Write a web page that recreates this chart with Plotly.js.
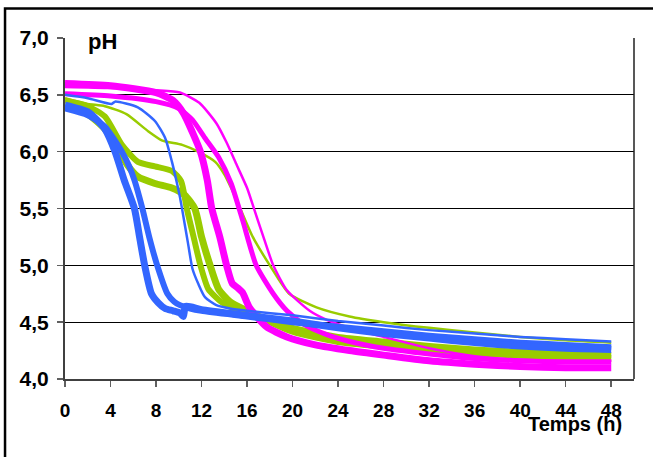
<!DOCTYPE html>
<html>
<head>
<meta charset="utf-8">
<script src="https://cdn.plot.ly/plotly-3.0.1.min.js"></script>
<style>
html,body{margin:0;padding:0;background:#fff;}
#chart{width:653px;height:457px;}
</style>
</head>
<body>
<div id="chart"></div>
<script>
// ---- data (time in h, pH) ----
const xTicks = [0, 4, 8, 12, 16, 20, 24, 28, 32, 36, 40, 44, 48];
const yTicks = [4.0, 4.5, 5.0, 5.5, 6.0, 6.5, 7.0];

// green series
const tG1 = [0, 2, 3.5, 5.4, 7.3, 8.5, 10.3, 11.7, 13.2, 14.0, 14.6, 15.4, 16.5, 18.0, 19.7, 22.1, 25, 28, 32, 36, 40, 44, 48];
const pG1 = [6.47, 6.42, 6.40, 6.33, 6.18, 6.10, 6.06, 6.00, 5.91, 5.80, 5.68, 5.50, 5.25, 5.00, 4.75, 4.63, 4.55, 4.50, 4.45, 4.41, 4.37, 4.34, 4.32];
const tG2 = [0, 2, 3.5, 5, 6.4, 7.9, 9.4, 10.2, 10.7, 11.3, 11.9, 12.6, 13.7, 14.6, 16, 20, 24, 28, 32, 36, 40, 44, 48];
const pG2 = [6.45, 6.40, 6.31, 6.06, 5.91, 5.87, 5.83, 5.74, 5.50, 5.25, 5.00, 4.79, 4.68, 4.63, 4.57, 4.45, 4.37, 4.33, 4.29, 4.26, 4.24, 4.22, 4.21];
const tG3 = [0, 2, 3.5, 4.8, 5.5, 6.4, 7.9, 9.4, 10.5, 11.4, 12.0, 12.75, 13.5, 14.5, 16, 20, 24, 28, 32, 36, 40, 44, 48];
const pG3 = [6.40, 6.33, 6.20, 6.00, 5.88, 5.78, 5.72, 5.68, 5.62, 5.50, 5.25, 5.00, 4.79, 4.68, 4.60, 4.42, 4.33, 4.29, 4.26, 4.23, 4.21, 4.19, 4.18];

// magenta series
const tM1 = [0, 4, 8, 9.5, 10.4, 11.2, 11.9, 12.5, 12.9, 13.6, 14.2, 14.7, 15.2, 15.6, 16.2, 17.7, 19.5, 22, 25, 28, 32, 36, 40, 44, 48];
const pM1 = [6.60, 6.58, 6.52, 6.45, 6.34, 6.17, 6.00, 5.75, 5.50, 5.25, 5.00, 4.84, 4.80, 4.76, 4.63, 4.46, 4.37, 4.30, 4.25, 4.21, 4.16, 4.13, 4.11, 4.10, 4.10];
const tM2 = [0, 4, 8, 10, 11.2, 12.3, 13.5, 14.6, 15.6, 16.8, 18.3, 19.5, 21, 23, 25, 28, 32, 36, 40, 44, 48];
const pM2 = [6.51, 6.49, 6.44, 6.38, 6.28, 6.12, 5.95, 5.72, 5.40, 5.00, 4.75, 4.60, 4.48, 4.39, 4.33, 4.27, 4.22, 4.18, 4.16, 4.15, 4.15];
const tM3 = [0, 4, 8, 10.1, 11.8, 13.3, 14.2, 15.1, 16.0, 16.7, 17.5, 18.3, 19.5, 21.5, 23, 25, 28, 32, 36, 40, 44, 48];
const pM3 = [6.57, 6.56, 6.54, 6.52, 6.43, 6.25, 6.08, 5.88, 5.68, 5.47, 5.23, 5.00, 4.78, 4.60, 4.52, 4.45, 4.37, 4.27, 4.20, 4.17, 4.16, 4.16];

// blue series
const tB1 = [0, 2, 3.5, 4.4, 5.2, 6.1, 6.55, 7.0, 7.6, 8.2, 8.8, 9.5, 10.1, 10.4, 10.6, 12, 16, 20, 24, 28, 32, 36, 40, 44, 48];
const pB1 = [6.41, 6.35, 6.20, 6.00, 5.75, 5.50, 5.25, 5.00, 4.75, 4.67, 4.62, 4.60, 4.58, 4.55, 4.64, 4.61, 4.56, 4.51, 4.45, 4.40, 4.36, 4.32, 4.29, 4.27, 4.26];
const tB2 = [0, 2, 3.5, 5.0, 5.6, 6.1, 6.8, 7.4, 8.1, 9.0, 9.6, 10.1, 11, 12, 16, 20, 24, 28, 32, 36, 40, 44, 48];
const pB2 = [6.38, 6.32, 6.22, 6.00, 5.88, 5.75, 5.50, 5.25, 5.00, 4.75, 4.68, 4.65, 4.62, 4.60, 4.55, 4.50, 4.46, 4.42, 4.38, 4.35, 4.32, 4.30, 4.28];
const tB3 = [0, 2, 4.1, 4.4, 6.4, 7.9, 8.8, 9.4, 9.8, 10.1, 10.3, 10.8, 11.2, 11.7, 12.3, 13.3, 14.5, 16, 20, 24, 28, 32, 36, 40, 44, 48];
const pB3 = [6.50, 6.47, 6.42, 6.44, 6.39, 6.27, 6.12, 5.91, 5.74, 5.60, 5.49, 5.20, 4.97, 4.84, 4.72, 4.65, 4.62, 4.60, 4.56, 4.51, 4.47, 4.43, 4.40, 4.37, 4.35, 4.33];

const GREEN = '#99CC00', MAGENTA = '#FF00FF', BLUE = '#3366FF';

function tr(x, y, color, width) {
  return {x: x, y: y, type: 'scatter', mode: 'lines',
          line: {color: color, width: width, shape: 'spline', smoothing: 0.6},
          hoverinfo: 'skip', showlegend: false};
}

const traces = [
  tr(tG1, pG1, GREEN, 2.5),
  tr(tG2, pG2, GREEN, 6),
  tr(tG3, pG3, GREEN, 7),
  tr(tM3, pM3, MAGENTA, 2.5),
  tr(tM2, pM2, MAGENTA, 5),
  tr(tM1, pM1, MAGENTA, 7),
  tr(tB3, pB3, BLUE, 2.5),
  tr(tB2, pB2, BLUE, 6),
  tr(tB1, pB1, BLUE, 7)
];

const FAM = 'Liberation Sans, Arial, sans-serif';
const b = s => '<b>' + s + '</b>';

const layout = {
  width: 653, height: 457,
  margin: {l: 65, r: 19, t: 38, b: 78, pad: 0},
  paper_bgcolor: '#fff', plot_bgcolor: '#fff',
  showlegend: false,
  xaxis: {
    range: [0, 50], tickmode: 'array', tickvals: xTicks, ticktext: xTicks.map(v => b(String(v))),
    showgrid: false, zeroline: false,
    showline: true, linecolor: '#404040', linewidth: 2, mirror: false,
    ticks: 'outside', ticklen: 6, tickwidth: 1.5, tickcolor: '#606060',
    tickfont: {family: FAM, size: 19, color: '#000'}, ticklabelstandoff: 7
  },
  yaxis: {
    range: [4, 7], tickmode: 'array', tickvals: yTicks,
    ticktext: yTicks.map(v => b(v.toFixed(1).replace('.', ','))),
    showgrid: true, gridcolor: '#000', gridwidth: 1.2, zeroline: false,
    showline: true, linecolor: '#404040', linewidth: 2, mirror: false,
    ticks: 'outside', ticklen: 6, tickwidth: 1.5, tickcolor: '#606060',
    tickfont: {family: FAM, size: 21, color: '#000'}, ticklabelstandoff: 4
  },
  shapes: [
    {type: 'line', xref: 'paper', yref: 'paper', x0: 1, x1: 1, y0: 0, y1: 1,
     line: {color: '#202020', width: 1.5}},
    {type: 'rect', xref: 'paper', yref: 'paper',
     x0: -0.1054, x1: 1.06, y0: -0.24, y1: 1.0865,
     line: {color: '#000', width: 2.5}, fillcolor: 'rgba(0,0,0,0)', layer: 'above'}
  ],
  annotations: [
    {text: b('pH'), xref: 'paper', yref: 'paper', x: 0.066, y: 0.99,
     xanchor: 'center', yanchor: 'middle', showarrow: false,
     font: {family: FAM, size: 22, color: '#000'}},
    {text: b('Temps (h)'), xref: 'paper', yref: 'paper', x: 0.896, y: -0.132,
     xanchor: 'center', yanchor: 'middle', showarrow: false,
     font: {family: FAM, size: 20, color: '#000'}}
  ]
};

Plotly.newPlot('chart', traces, layout, {staticPlot: true, displayModeBar: false});
</script>
</body>
</html>
